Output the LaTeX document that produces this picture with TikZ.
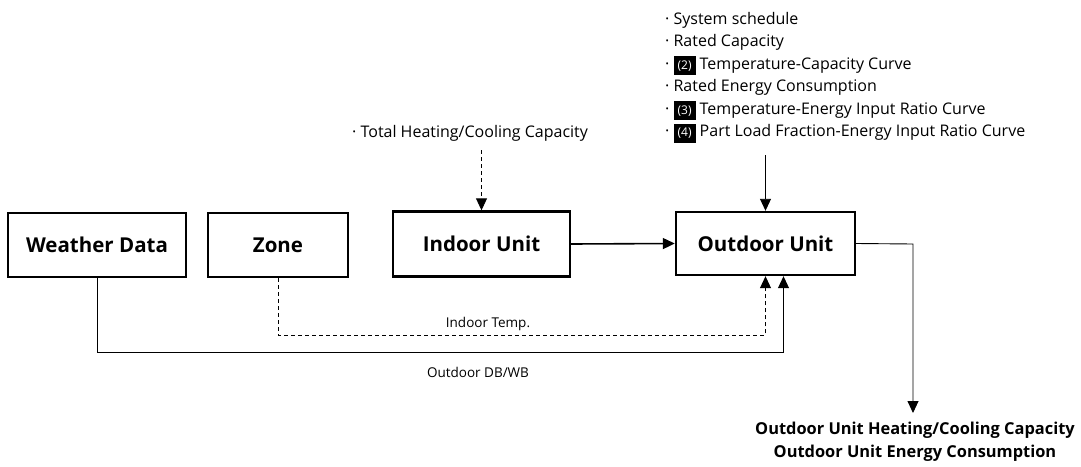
\documentclass[tikz,border=0pt]{standalone}
\usepackage{fontspec}
\setmainfont{Open Sans}
\usetikzlibrary{arrows.meta}
\newcommand\numbox[1]{{\setlength{\fboxsep}{0pt}\colorbox{black}{\rule[-6pt]{0pt}{19pt}\hspace{4pt}\textcolor{white}{\fontsize{12}{12}\selectfont #1}\hspace{4pt}}}}
\begin{document}
\begin{tikzpicture}[x=1pt,y=-1pt,
  unitbox/.style={draw, line width=2.4pt, inner sep=0pt, font=\fontsize{20.5}{20.5}\selectfont\bfseries},
  link/.style={line width=0.9pt},
  dashlink/.style={line width=0.9pt, dash pattern=on 4pt off 3pt},
  tip/.style={-{Triangle[length=12pt,width=11pt]}},
  note/.style={font=\fontsize{16}{16}\selectfont, inner sep=0pt, anchor=base west},
  result/.style={font=\fontsize{16.4}{16.4}\selectfont\bfseries, inner sep=0pt}]
\useasboundingbox (0,0) rectangle (1081,466);

% main blocks
\node[unitbox, minimum width=178pt, minimum height=64pt] (weather) at (97,245) {Weather Data};
\node[unitbox, minimum width=140pt, minimum height=64pt] (zone) at (278,245) {Zone};
\node[unitbox, minimum width=177pt, minimum height=65pt] (indoor) at (481.5,244) {Indoor Unit};
\node[unitbox, minimum width=179pt, minimum height=63pt] (outdoor) at (765.5,243.5) {Outdoor Unit};

% inputs of the indoor unit
\node[note] (capin) at (352,137) {· Total Heating/Cooling Capacity};
\coordinate (capsrc) at (481.5,150);
\draw[dashlink, tip] (capsrc) -- (indoor.north);

% inputs of the outdoor unit
\node[note] (l1) at (665,24) {· System schedule};
\node[note] (l2) at (665,46.5) {· Rated Capacity};
\node[note] (l3) at (665,69) {· \numbox{(2)} Temperature-Capacity Curve};
\node[note] (l4) at (665,91.5) {· Rated Energy Consumption};
\node[note] (l5) at (665,114) {· \numbox{(3)} Temperature-Energy Input Ratio Curve};
\node[note] (l6) at (665,136.5) {· \numbox{(4)} Part Load Fraction-Energy Input Ratio Curve};
\coordinate (specsrc) at (765.5,155);
\draw[link, tip] (specsrc) -- (outdoor.north);

% indoor unit to outdoor unit
\draw[line width=1.6pt, tip] (indoor.east) -- (outdoor.west);

% zone temperature and weather data
\coordinate (zonebend) at (zone.south |- 0,335);
\draw[dashlink, tip] (zone.south) -- (zonebend) -- (zonebend -| outdoor.south) -- (outdoor.south);
\coordinate (wxbend) at (weather.south |- 0,352);
\coordinate (wxin) at ([xshift=18pt]outdoor.south);
\draw[link, tip] (weather.south) -- (wxbend) -- (wxbend -| wxin) -- (wxin);
\node[font=\fontsize{13.5}{13.5}\selectfont, inner sep=0pt] (tlabel) at (488,324) {Indoor Temp.};
\node[font=\fontsize{13.5}{13.5}\selectfont, inner sep=0pt] (dblabel) at (478,372) {Outdoor DB/WB};

% outputs
\coordinate (outbend) at (913,244);
\coordinate (outtip) at (913,413);
\draw[link, tip] (outdoor.east) -- (outbend) -- (outtip);
\node[result] (res1) at (915,430) {Outdoor Unit Heating/Cooling Capacity};
\node[result] (res2) at (915,453) {Outdoor Unit Energy Consumption};
\end{tikzpicture}
\end{document}
